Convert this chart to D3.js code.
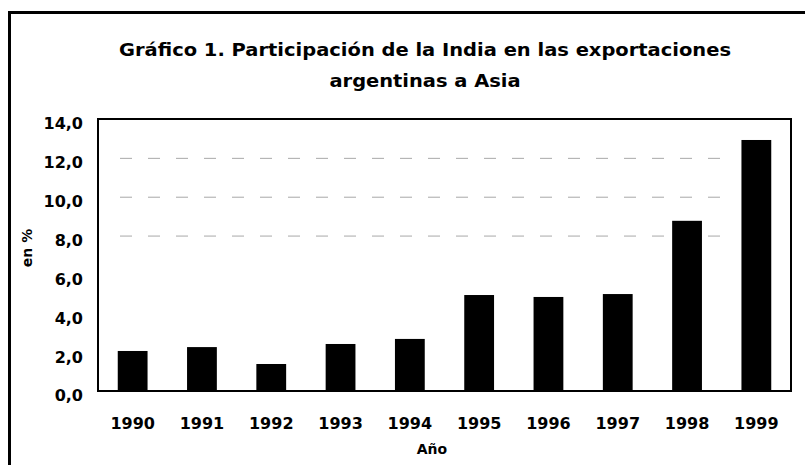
<!DOCTYPE html>
<html>
<head>
<meta charset="utf-8">
<script src="https://cdn.jsdelivr.net/npm/d3@7"></script>
<style>
  body { margin: 0; background: #fff; }
  text { font-family: "DejaVu Sans", sans-serif; font-weight: bold; fill: #000; }
</style>
</head>
<body>
<svg id="chart" width="805" height="465"></svg>
<script>
// datos
const years = ["1990", "1991", "1992", "1993", "1994", "1995", "1996", "1997", "1998", "1999"];
const shares = [2.06, 2.26, 1.39, 2.42, 2.68, 4.94, 4.84, 4.99, 8.76, 12.92];
const yTicks = [0, 2, 4, 6, 8, 10, 12, 14];
const gridTicks = [8, 10, 12];
const titleLines = ["Gráfico 1. Participación de la India en las exportaciones", "argentinas a Asia"];
const titleWidths = [612, 191];

const margin = { left: 98, top: 119, right: 14, bottom: 74 };
const width = 805 - margin.left - margin.right;
const height = 465 - margin.top - margin.bottom;
const font = "'DejaVu Sans', sans-serif";

const svg = d3.select("#chart");

// marco exterior (solo borde superior e izquierdo visibles)
svg.append("path")
  .attr("d", "M9.5,465 V12.5 H805")
  .attr("fill", "none")
  .attr("stroke", "#000")
  .attr("stroke-width", 3);

svg.append("g")
  .selectAll("text")
  .data(titleLines)
  .join("text")
  .attr("x", 425)
  .attr("y", (d, i) => 56 + i * 31)
  .attr("text-anchor", "middle")
  .attr("textLength", (d, i) => titleWidths[i])
  .attr("lengthAdjust", "spacingAndGlyphs")
  .style("font-size", "18px")
  .text(d => d);

const x = d3.scaleBand()
  .domain(years)
  .range([0, width])
  .paddingInner(0.57)
  .paddingOuter(0.285);

const y = d3.scaleLinear()
  .domain([0, 14])
  .range([height, 0]);

const g = svg.append("g")
  .attr("transform", `translate(${margin.left},${margin.top})`);

// lineas de grilla punteadas
g.append("g")
  .selectAll("line")
  .data(gridTicks)
  .join("line")
  .attr("x1", 22)
  .attr("x2", width - 70)
  .attr("y1", d => y(d) + 0.5)
  .attr("y2", d => y(d) + 0.5)
  .attr("stroke", "#a8a8a8")
  .attr("stroke-width", 1)
  .attr("stroke-dasharray", "12,16");

g.append("g")
  .selectAll("rect")
  .data(shares)
  .join("rect")
  .attr("x", (d, i) => x(years[i]))
  .attr("y", d => y(d))
  .attr("width", x.bandwidth())
  .attr("height", d => height - y(d))
  .attr("fill", "#000");

// borde del area de grafico
g.append("rect")
  .attr("x", 0)
  .attr("y", 0)
  .attr("width", width)
  .attr("height", height)
  .attr("fill", "none")
  .attr("stroke", "#000")
  .attr("stroke-width", 2);

const yAxis = g.append("g")
  .call(d3.axisLeft(y).tickValues(yTicks).tickSize(0).tickPadding(15)
    .tickFormat(d => d3.format(".1f")(d).replace(".", ",")));
yAxis.select(".domain").remove();
yAxis.selectAll("text")
  .attr("dy", "0.62em")
  .style("font-size", "16px")
  .style("font-family", font)
  .style("font-weight", "bold");

const xAxis = g.append("g")
  .attr("transform", `translate(0,${height})`)
  .call(d3.axisBottom(x).tickSize(0).tickPadding(27));
xAxis.select(".domain").remove();
xAxis.selectAll("text")
  .style("font-size", "16px")
  .style("font-family", font)
  .style("font-weight", "bold");

svg.append("text")
  .attr("x", 432)
  .attr("y", 454)
  .attr("text-anchor", "middle")
  .style("font-size", "14px")
  .text("Año");

svg.append("text")
  .attr("transform", "translate(32,248) rotate(-90)")
  .attr("text-anchor", "middle")
  .style("font-size", "14px")
  .text("en %");
</script>
</body>
</html>
